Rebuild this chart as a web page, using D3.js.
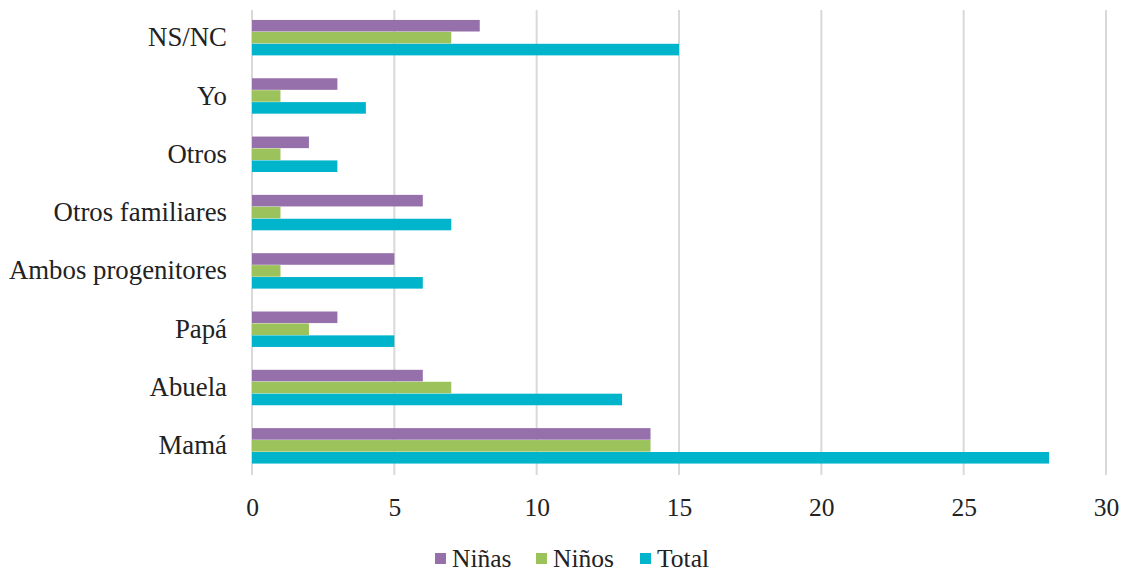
<!DOCTYPE html>
<html>
<head>
<meta charset="utf-8">
<style>
  body { margin: 0; background: #fff; }
  #chart { display: block; }
  #chart text { font-family: "Liberation Serif", "Times New Roman", serif; }
</style>
<script src="https://cdn.jsdelivr.net/npm/d3@7"></script>
</head>
<body>
<svg id="chart" width="1125" height="574"></svg>
<script>
// Respuestas por categoría (de abajo hacia arriba en el gráfico)
const categories = ["Mamá", "Abuela", "Papá", "Ambos progenitores", "Otros familiares", "Otros", "Yo", "NS/NC"];
const series = ["Niñas", "Niños", "Total"];
const ninas = [14, 6, 3, 5, 6, 2, 3, 8];
const ninos = [14, 7, 2, 1, 1, 1, 1, 7];
const total = [28, 13, 5, 6, 7, 3, 4, 15];
const xTicks = [0, 5, 10, 15, 20, 25, 30];
const colors = ["#9670ab", "#9bc25b", "#00b4cc"];

const FONT = "'Liberation Serif', 'Times New Roman', serif";
const values = [ninas, ninos, total];
const rows = categories.map((c, i) => ({
  cat: c,
  vals: series.map((s, k) => ({ key: s, value: values[k][i] }))
}));

const svg = d3.select("#chart");
const margin = { left: 252, right: 19, top: 8.5, bottom: 99 };
const W = 1125, H = 574;

const x = d3.scaleLinear().domain([0, 30]).range([margin.left, W - margin.right]);
const y = d3.scaleBand()
  .domain(categories.slice().reverse())
  .range([margin.top, H - margin.bottom])
  .paddingInner(0.38)
  .paddingOuter(0.19);
const y1 = d3.scaleBand().domain(series).range([0, y.bandwidth()]).padding(0.03);
const color = d3.scaleOrdinal().domain(series).range(colors);

// Líneas de división verticales
svg.append("g")
  .selectAll("line")
  .data(xTicks)
  .join("line")
  .attr("x1", d => x(d)).attr("x2", d => x(d))
  .attr("y1", 10).attr("y2", 475)
  .attr("stroke", "#d9d9d9")
  .attr("stroke-width", 2);

// Barras agrupadas
svg.append("g")
  .selectAll("g")
  .data(rows)
  .join("g")
  .attr("transform", d => `translate(0,${y(d.cat)})`)
  .selectAll("rect")
  .data(d => d.vals)
  .join("rect")
  .attr("x", x(0))
  .attr("y", d => y1(d.key))
  .attr("width", d => x(d.value) - x(0))
  .attr("height", y1.bandwidth())
  .attr("fill", d => color(d.key));

// Eje X
const xAxis = d3.axisBottom(x).tickValues(xTicks).tickSize(0).tickPadding(0);
svg.append("g")
  .attr("transform", "translate(0,496)")
  .call(xAxis)
  .call(g => g.select(".domain").remove())
  .call(g => g.selectAll("text")
    .attr("dy", "0.8em")
    .style("font-family", FONT)
    .style("font-size", "25.5px")
    .attr("fill", "#222"));

// Eje Y (etiquetas de categoría)
const yAxis = d3.axisLeft(y).tickSize(0).tickPadding(25);
svg.append("g")
  .attr("transform", `translate(${x(0)},0)`)
  .call(yAxis)
  .call(g => g.select(".domain").remove())
  .call(g => g.selectAll("text")
    .style("font-family", FONT)
    .style("font-size", "26.8px")
    .attr("fill", "#222"));

// Leyenda
const legendX = [435, 536, 640];
const legend = svg.append("g").selectAll("g")
  .data(series)
  .join("g")
  .attr("transform", (d, i) => `translate(${legendX[i]},553)`);
legend.append("rect")
  .attr("width", 11).attr("height", 11)
  .attr("fill", d => color(d));
legend.append("text")
  .attr("x", 17).attr("y", 5.5)
  .attr("dy", "0.35em")
  .style("font-family", FONT)
  .style("font-size", "25.5px")
  .attr("fill", "#222")
  .text(d => d);
</script>
</body>
</html>
